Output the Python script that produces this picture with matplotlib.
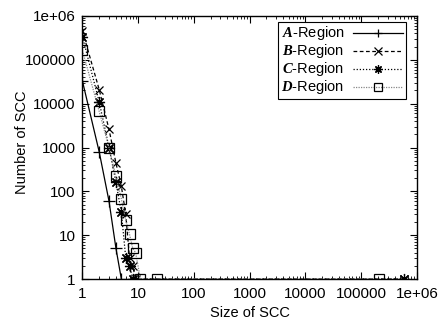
import numpy as np
import matplotlib
matplotlib.use("Agg")
import matplotlib.pyplot as plt
from matplotlib.ticker import LogLocator, FixedLocator, NullFormatter

plt.rcParams['font.family'] = ['Liberation Sans', 'DejaVu Sans']
plt.rcParams['mathtext.fontset'] = 'custom'
plt.rcParams['mathtext.bf'] = 'Liberation Serif:italic:bold'
plt.rcParams['mathtext.rm'] = 'Liberation Sans'

# SCC size distribution per region
a_size = [1, 2, 3, 4, 5]
a_count = [33000, 800, 60, 5, 1]

b_size = [1, 2, 3, 4, 5, 6, 7, 8, 9, 600000]
b_count = [460000, 21000, 2600, 440, 130, 30, 3, 2, 1, 1]

c_size = [1, 2, 3, 4, 5, 6, 7, 8, 600000]
c_count = [340000, 11000, 1000, 160, 33, 3, 2, 1, 1]

d_size = [1, 2, 3, 4, 5, 6, 7, 8, 9, 11, 22, 210000]
d_count = [165000, 6700, 1000, 220, 67, 22, 10.5, 5, 4, 1, 1, 1]

labels = [r'$\mathbf{A}$-Region', r'$\mathbf{B}$-Region',
          r'$\mathbf{C}$-Region', r'$\mathbf{D}$-Region']
ticks = [1, 10, 100, 1000, 10000, 100000, 1000000]
tick_text = ['1', '10', '100', '1000', '10000', '100000', '1e+06']

fig = plt.figure(figsize=(4.43, 3.26), dpi=100)
ax = fig.add_axes([0.186, 0.144, 0.755, 0.807])

ax.plot(a_size, a_count, color='black', lw=0.9, marker='+', ms=8, mew=0.9,
        label=labels[0])
ax.plot(b_size, b_count, color='black', lw=0.9, ls=(0, (3, 2)), marker='x',
        ms=6, mew=0.9, label=labels[1])
ax.plot(c_size, c_count, color='black', lw=0.9, ls=(0, (1, 1.5)),
        marker=(8, 2, 0), ms=8, mew=0.9, label=labels[2])
ax.plot(d_size, d_count, color='#888888', lw=0.9, ls=(0, (1, 1)),
        marker='s', ms=7, mew=0.9, mfc='none', mec='black', label=labels[3])

ax.set_xscale('log')
ax.set_yscale('log')
ax.set_xlim(1, 1e6)
ax.set_ylim(1, 1e6)

for axis in (ax.xaxis, ax.yaxis):
    axis.set_major_locator(FixedLocator(ticks))
    axis.set_minor_locator(LogLocator(base=10, subs=np.arange(2, 10)))
    axis.set_minor_formatter(NullFormatter())
ax.set_xticklabels(tick_text)
ax.set_yticklabels(tick_text)

ax.tick_params(which='both', direction='in', top=True, right=True,
               labelsize=11, color='black')
ax.tick_params(which='major', length=5, width=0.8)
ax.tick_params(which='minor', length=2.5, width=0.6)
ax.tick_params(axis='x', pad=6)
ax.tick_params(axis='y', pad=5)
for s in ax.spines.values():
    s.set_linewidth(1.0)

ax.set_xlabel('Size of SCC', fontsize=10.5, labelpad=3)
ax.set_ylabel('Number of SCC', fontsize=10.5)
ax.yaxis.set_label_coords(-0.16, 0.52)

leg = ax.legend(loc='upper right', bbox_to_anchor=(0.975, 0.99),
                markerfirst=False, fontsize=10.5, handlelength=3.4,
                handleheight=0.5, handletextpad=0.6, labelspacing=0.0,
                borderpad=0.2, borderaxespad=0.2,
                fancybox=False, edgecolor='black', framealpha=1)
leg.get_frame().set_linewidth(0.8)
for h in leg.legend_handles:
    h.set_markersize(6)

fig.savefig('out.png', dpi=100)
